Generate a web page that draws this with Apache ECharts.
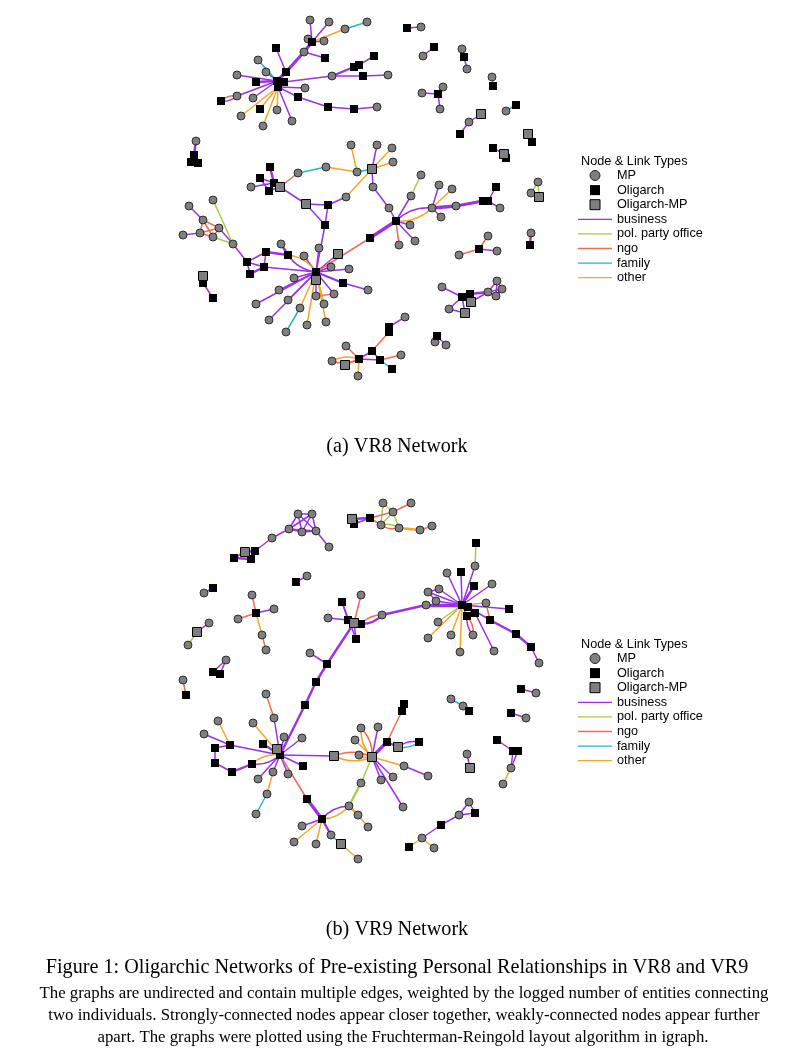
<!DOCTYPE html>
<html>
<head>
<meta charset="utf-8" />
<style>
  html, body { margin: 0; padding: 0; background: #fff; }
  #net { width: 800px; height: 1058px; }
</style>
<script src="https://cdn.jsdelivr.net/npm/echarts@6/dist/echarts.min.js"></script>
</head>
<body>
<div id="net"></div>
<script type="text/javascript">
// node types: M = MP, O = Oligarch, X = Oligarch-MP
// link types: b = business, g = pol. party office, n = ngo, f = family, o = other
var nodeTypeNames = { M: 'MP', O: 'Oligarch', X: 'Oligarch-MP' };
var linkTypeNames = { b: 'business', g: 'pol. party office', n: 'ngo', f: 'family', o: 'other' };

// VR8 layout (Fruchterman-Reingold positions)
var vr8Nodes = [
  ['H1',277,81,'O'],['H2',284,82,'O'],['H3',278,87,'O'],
  ['a1',310,20,'M'],['a2',329,22,'M'],['a3',345,29,'M'],['a4',367,22,'M'],['a5',308,39,'M'],
  ['a6',312,42,'O'],['a7',324,41,'M'],['a8',276,48,'O'],['a9',304,52,'M'],['a10',325,58,'O'],
  ['a11',258,60,'M'],['a12',286,72,'O'],['a13',266,72,'M'],['a14',237,75,'M'],['a15',256,82,'O'],
  ['a16',305,88,'M'],['a17',332,76,'M'],['a18',354,67,'O'],['a19',359,65,'O'],['a20',363,76,'O'],
  ['a21',374,56,'O'],['a22',388,75,'M'],['a23',237,96,'M'],['a24',221,101,'O'],['a25',253,98,'M'],
  ['a26',298,97,'O'],['a27',260,109,'O'],['a28',277,110,'M'],['a29',241,116,'M'],['a30',292,121,'M'],
  ['a31',263,126,'M'],['a32',328,107,'O'],['a33',354,109,'O'],['a34',377,107,'M'],
  ['b1',407,28,'O'],['b2',421,27,'M'],['b3',434,47,'O'],['b4',423,56,'M'],['b5',462,49,'M'],
  ['b6',464,57,'O'],['b7',467,69,'M'],['b8',492,77,'M'],['b9',493,86,'O'],['b10',438,94,'O'],
  ['b11',422,93,'M'],['b12',443,87,'M'],['b13',440,109,'M'],['b14',516,105,'O'],['b15',506,111,'M'],
  ['b16',481,114,'X'],['b17',469,122,'M'],['b18',460,134,'O'],['b19',528,134,'X'],['b20',532,142,'O'],
  ['b21',493,148,'O'],['b22',504,154,'X'],['b23',506,158,'O'],
  ['c1',196,141,'M'],['c2',194,155,'O'],['c3',191,162,'O'],['c4',198,163,'O'],
  ['d1',538,182,'M'],['d2',531,193,'M'],['d3',539,197,'X'],['d4',531,233,'M'],['d5',530,245,'O'],
  ['e1',372,169,'X'],['e2',377,145,'M'],['e3',392,148,'M'],['e4',393,162,'M'],['e5',373,187,'M'],
  ['e6',351,145,'M'],['e7',326,167,'M'],['e8',298,173,'M'],['e9',357,172,'M'],['e10',346,197,'M'],
  ['f1',270,167,'O'],['f2',260,178,'O'],['f3',251,187,'M'],['f4',269,191,'O'],['f5',280,187,'X'],
  ['f6',274,183,'O'],
  ['g1',306,204,'X'],['g2',328,205,'O'],['g3',325,225,'O'],
  ['k1',213,200,'M'],['k2',189,206,'M'],['k3',203,220,'M'],['k4',219,228,'M'],['k5',200,233,'M'],
  ['k6',183,235,'M'],['k7',213,237,'M'],['k8',233,244,'M'],
  ['l1',247,262,'O'],['l2',266,252,'O'],['l3',288,255,'O'],['l4',281,244,'M'],['l5',264,267,'O'],
  ['l6',250,274,'O'],
  ['K',316,272,'O'],['KX',316,280,'X'],
  ['k9',319,248,'M'],['k10',304,256,'M'],['k11',338,254,'X'],['k12',331,267,'M'],['k13',349,269,'M'],
  ['k14',294,278,'M'],['k15',343,283,'O'],['k16',368,290,'M'],['k17',279,290,'M'],['k18',316,296,'M'],
  ['k19',334,294,'M'],['k20',256,304,'M'],['k21',288,300,'M'],['k22',324,304,'M'],['k23',300,308,'M'],
  ['k24',269,320,'M'],['k25',307,325,'M'],['k26',326,322,'M'],['k27',286,332,'M'],
  ['M',396,221,'O'],['m2',389,208,'M'],['m3',432,208,'M'],['m4',411,196,'M'],['m5',421,175,'M'],
  ['m6',439,185,'M'],['m7',452,189,'M'],['m8',456,206,'M'],['m9',483,201,'O'],['m10',488,201,'O'],
  ['m11',496,187,'O'],['m12',500,208,'M'],['m13',441,217,'M'],['m14',410,225,'M'],['m15',370,238,'O'],
  ['m16',399,245,'M'],['m17',415,241,'M'],
  ['n1',488,236,'M'],['n2',479,249,'O'],['n3',459,255,'M'],['n4',497,251,'M'],
  ['p1',442,287,'M'],['p2',462,297,'O'],['p3',470,294,'O'],['p4',471,302,'X'],['p5',449,309,'M'],
  ['p6',465,313,'X'],['p7',488,292,'M'],['p8',497,281,'M'],['p9',502,289,'M'],['p10',496,296,'M'],
  ['q1',405,317,'M'],['q2',389,327,'O'],['q3',389,332,'O'],['q4',437,336,'O'],['q5',435,342,'M'],
  ['q6',446,345,'M'],
  ['r1',372,351,'O'],['r2',380,360,'O'],['r3',401,355,'M'],['r4',392,369,'O'],['r5',359,359,'O'],
  ['r6',346,346,'M'],['r7',332,361,'M'],['r8',345,365,'X'],['r9',358,376,'M'],
  ['s1',203,276,'X'],['s2',203,283,'O'],['s3',213,298,'O']
];

// [from, to, type, weight]
var vr8Links = [
  ['a1','a6','b'],['a2','a6','b'],['a5','a6','b'],['a7','a6','b'],['a6','a3','o'],['a3','a4','f'],
  ['a6','a9','b',3],['a9','a12','b',3],['a9','a10','b'],['a8','a12','b'],['a12','H1','b',3],
  ['a11','H1','f'],['a13','H1','b'],['a14','H1','b'],['a15','H1','b',2],['a16','H3','b'],
  ['a17','H2','b'],['a17','a18','b',2],['a17','a20','b'],['a18','a19','b'],['a19','a21','b'],
  ['a20','a22','b'],['a23','H1','b'],['a23','a24','n'],['a23','a24','b'],['a25','H1','b'],
  ['a26','H3','b'],['a27','H3','o'],['a28','H3','o'],['a29','H3','o'],['a31','H3','o'],
  ['a30','H3','b'],['a26','a32','b'],['a32','a33','b'],['a33','a34','b'],
  ['H1','H2','b',2],['H1','H3','b',2],['H2','H3','b'],
  ['b1','b2','b'],['b3','b4','b'],['b5','b6','b'],['b6','b7','b'],['b8','b9','f'],['b10','b11','b'],
  ['b10','b12','b'],['b10','b13','b'],['b14','b15','f'],['b16','b17','b'],['b17','b18','b'],
  ['b19','b20','b'],['b21','b22','b'],['b22','b23','b'],
  ['c1','c2','b',2],['c2','c3','b'],['c2','c4','b'],
  ['d1','d2','g'],['d1','d3','g'],['d4','d5','b',2],
  ['e1','e2','b'],['e1','e3','o'],['e1','e4','o'],['e1','e5','b'],['e1','e10','o'],['e6','e9','o'],
  ['e9','e1','f'],['e7','e9','o'],['e8','e7','f'],['e5','m2','b'],
  ['f1','f6','b',2],['f2','f6','b'],['f3','f6','b'],['f6','f5','b'],['f4','f5','b'],['f5','e8','n'],
  ['f5','g1','b'],['f2','f4','b'],
  ['g1','g2','b'],['g1','g3','b'],['g2','g3','b'],['g2','e10','b'],['g3','K','b'],
  ['k2','k3','b'],['k3','k4','n'],['k3','k5','n'],['k4','k5','n'],['k4','k7','n'],['k5','k7','n'],
  ['k3','k7','n'],['k5','k6','b'],['k1','k8','g'],['k4','k8','b'],['k7','k8','g'],['k8','l1','b'],
  ['l1','l2','b'],['l2','l3','b',2],['l4','l3','b',2],['l1','l5','b'],['l5','l6','b',2],['l1','l6','b'],
  ['l5','K','b'],['l3','K','o'],['l3','K','b'],['l2','l5','b'],
  ['K','KX','b',2],['K','k9','b'],['K','k10','b'],['K','k11','b'],['K','k12','b'],['K','k13','b'],
  ['K','k14','b'],['K','k15','b',2],['k15','k16','b'],['K','k17','b'],['K','k18','b'],['K','k19','b'],
  ['k18','k19','n'],['K','k20','b'],['K','k21','b'],['K','k22','o'],['K','k23','o'],['k23','k27','f'],
  ['K','k24','b'],['K','k25','o'],['K','k26','o'],
  ['m2','M','b'],['M','m3','o'],['M','m3','b'],['m4','m5','g'],['m4','M','b'],['m3','m6','b'],
  ['m3','m7','o'],['m3','m8','b',3],['m8','m9','b',3],['m9','m10','b'],['m10','m11','b'],
  ['m10','m12','b'],['m3','m13','b'],['M','m14','b'],['M','m15','b',3],['m15','K','n'],
  ['M','m16','n'],['M','m17','b'],
  ['n2','n1','n'],['n2','n3','n'],['n2','n4','b'],
  ['p1','p2','b'],['p2','p3','b'],['p2','p4','b'],['p3','p7','b',2],['p2','p6','b'],['p5','p6','b'],
  ['p5','p2','b'],['p7','p8','b'],['p7','p9','b'],['p7','p10','f'],['p8','p9','b'],['p9','p10','b'],
  ['p8','p10','b'],['p4','p7','b'],
  ['q1','q2','b'],['q2','q3','b'],['q4','q5','b'],['q4','q6','b'],['q3','r1','n'],['r1','r2','b'],
  ['r1','r5','b'],['r2','r3','n'],['r2','r4','f'],['r5','r6','n'],['r5','r7','o'],['r5','r7','n'],
  ['r5','r8','n'],['r5','r9','o'],['r2','r5','b'],
  ['s1','s2','b'],['s2','s3','b']
];

// VR9 layout
var vr9Nodes = [
  ['t1',298,514,'M'],['t2',312,514,'M'],['t3',289,529,'M'],['t4',302,532,'M'],['t5',316,531,'M'],
  ['t6',329,547,'M'],['t7',272,538,'M'],['t8',255,551,'O'],['t9',245,552,'X'],['t10',234,558,'O'],
  ['t11',251,559,'O'],
  ['u1',352,519,'X'],['u2',354,524,'O'],['u3',370,518,'O'],['u4',383,503,'M'],['u5',411,503,'M'],
  ['u6',393,512,'M'],['u7',381,525,'M'],['u8',399,528,'M'],['u9',420,530,'M'],['u10',432,526,'M'],
  ['v1',307,576,'M'],['v2',296,582,'O'],['v3',213,588,'O'],['v4',204,593,'M'],
  ['w1',252,595,'M'],['w2',256,613,'O'],['w3',274,609,'M'],['w4',238,619,'M'],['w5',262,635,'M'],
  ['w6',266,650,'M'],
  ['x1',209,623,'M'],['x2',197,632,'X'],['x3',188,645,'M'],
  ['y1',226,660,'M'],['y2',213,672,'O'],['y3',220,674,'O'],
  ['z1',183,680,'M'],['z2',186,695,'O'],
  ['s1',342,602,'O'],['s2',361,595,'M'],['s3',328,618,'M'],['s4',348,620,'O'],['s5',354,623,'X'],
  ['s6',361,624,'O'],['s7',356,639,'O'],['s8',382,615,'M'],['s9',310,653,'M'],['s10',327,664,'O'],
  ['s11',316,682,'O'],['s12',305,705,'O'],
  ['R',462,605,'O'],['r1',476,543,'O'],['r2',475,566,'M'],['r3',447,573,'M'],['r4',461,572,'O'],
  ['r5',492,584,'M'],['r6',474,586,'O'],['r7',428,592,'M'],['r8',439,589,'M'],['rA',426,605,'M'],
  ['rB',436,601,'M'],['rC',468,607,'O'],['rD',486,603,'M'],['rE',509,609,'O'],['rF',467,616,'O'],
  ['rG',475,613,'O'],['rH',490,620,'O'],['rI',516,634,'O'],['rJ',531,647,'O'],['rK',539,663,'M'],
  ['rL',438,622,'M'],['rM',451,635,'M'],['rN',473,635,'M'],['rO',428,638,'M'],['rP',460,652,'M'],
  ['rQ',494,651,'M'],
  ['T',280,755,'O'],['TX',277,749,'X'],
  ['p1',266,694,'M'],['p2',274,718,'M'],['p3',253,723,'M'],['p4',218,721,'M'],['p5',204,734,'M'],
  ['p6',230,745,'O'],['p7',215,748,'O'],['p8',215,763,'O'],['p9',232,772,'O'],['p10',252,764,'O'],
  ['p11',263,744,'O'],['p12',284,737,'M'],['p13',302,738,'M'],['p14',303,766,'O'],['p15',273,772,'M'],
  ['p16',288,774,'M'],['p17',258,779,'M'],['p18',267,794,'M'],['p19',256,814,'M'],['p20',307,799,'O'],
  ['p21',334,756,'X'],
  ['q1',322,819,'O'],['q2',302,826,'M'],['q3',294,842,'M'],['q4',316,844,'M'],['q5',331,835,'M'],
  ['q6',341,844,'X'],['q7',358,859,'M'],['q8',349,806,'M'],['q9',358,815,'M'],['q10',368,827,'M'],
  ['q11',361,783,'M'],
  ['U',372,757,'X'],['h1',361,728,'M'],['h2',378,727,'M'],['h3',355,740,'M'],['h4',387,742,'O'],
  ['h5',398,747,'X'],['h6',419,742,'O'],['h7',402,711,'O'],['h8',404,704,'O'],['h9',359,755,'M'],
  ['h10',404,766,'M'],['h11',428,776,'M'],['h12',393,777,'M'],['h13',381,780,'M'],['h14',403,807,'M'],
  ['i1',451,699,'M'],['i2',463,706,'M'],['i3',469,711,'O'],['i4',521,689,'O'],['i5',536,693,'M'],
  ['i6',511,713,'O'],['i7',526,718,'M'],['i8',467,754,'M'],['i9',470,768,'X'],['i10',497,740,'O'],
  ['i11',513,751,'O'],['i12',518,751,'O'],['i13',511,768,'M'],['i14',503,784,'M'],['i15',469,802,'M'],
  ['i16',475,813,'O'],['i17',459,815,'M'],['i18',441,825,'O'],['i19',422,838,'M'],['i20',409,847,'O'],
  ['i21',434,848,'M']
];

var vr9Links = [
  ['t1','t2','b'],['t1','t3','b'],['t1','t4','b'],['t1','t5','b'],['t2','t3','b'],['t2','t4','b'],
  ['t2','t5','b'],['t3','t4','b'],['t4','t5','b'],['t3','t5','b'],['t5','t6','b'],['t3','t7','b'],
  ['t7','t8','b'],['t8','t9','b',2],['t9','t10','b'],['t10','t11','b',2],['t9','t11','b'],
  ['u1','u3','b',2],['u2','u3','b'],['u3','u6','n'],['u6','u5','n'],['u4','u6','g'],['u4','u7','g'],
  ['u6','u7','g'],['u6','u8','g'],['u7','u8','n'],['u7','u8','g'],['u3','u7','n'],['u8','u9','o',2],
  ['u9','u10','n'],
  ['v1','v2','b'],['v3','v4','b'],
  ['w1','w2','n'],['w2','w3','b'],['w2','w4','n'],['w2','w5','o'],['w5','w6','n'],
  ['x1','x2','b'],['x2','x3','g'],['y1','y2','b'],['y1','y3','b'],['z1','z2','n'],
  ['s1','s4','b'],['s1','s7','b'],['s2','s5','n'],['s3','s4','b'],['s4','s5','b',2],['s5','s6','b',2],
  ['s5','s7','b'],['s6','s8','b',2],['s6','s8','n'],['s5','s10','b',2],['s9','s10','b'],
  ['s10','s11','b',2],['s11','s12','b',2],['s12','T','b',2],['s8','rA','b',2],
  ['r1','r2','g'],['r2','R','b'],['R','r3','b'],['R','r4','b'],['R','r5','b'],['R','r6','b',2],
  ['R','r7','b'],['R','r8','b'],['R','rB','b'],['R','rA','b',3],['R','rC','b',2],['R','rD','g'],
  ['rD','rH','n'],['R','rE','b'],['R','rF','b'],['R','rG','b',2],['rC','rH','b'],['rH','rI','b',2],
  ['rI','rJ','b',2],['rJ','rK','b'],['R','rL','g'],['R','rM','o'],['rF','rN','b'],['rF','rN','n'],
  ['R','rO','o'],['R','rP','o'],['rG','rQ','b'],['r7','r8','b'],['r7','rB','b'],
  ['p1','p2','n'],['p2','T','b'],['p3','T','o'],['p4','p6','o'],['p5','p6','b'],['p6','T','b'],
  ['p6','p7','b'],['p7','p8','b'],['p8','p9','b'],['p9','p10','b',2],['p10','T','o'],['p10','T','b'],
  ['p11','T','b',2],['TX','T','b',2],['p12','T','b'],['p13','T','b'],['p14','T','b'],['p15','T','b'],
  ['p16','T','b'],['p17','T','b'],['p15','p18','o'],['p18','p19','f'],['T','p20','n'],
  ['p20','q1','b',3],['T','p21','b'],['p21','U','n'],['p21','U','o'],
  ['q1','q2','b'],['q1','q3','o'],['q1','q4','o'],['q1','q5','b',2],['q5','q6','f'],['q6','q7','o'],
  ['q1','q8','o'],['q1','q8','b'],['q8','q9','o',2],['q9','q10','o'],['q8','q11','g',2],['q11','U','g'],
  ['U','h1','n'],['U','h1','o'],['U','h2','b'],['U','h3','o'],['U','h4','b',3],['h4','h5','b',2],
  ['h5','h6','f'],['h5','h6','b'],['h4','h7','n'],['h7','h8','b'],['U','h9','n'],['U','h9','o'],
  ['U','h10','o'],['h10','h11','b'],['U','h12','b'],['U','h13','b'],['U','h14','b'],
  ['i1','i2','f'],['i2','i3','n'],['i4','i5','b'],['i6','i7','b'],['i8','i9','b'],['i10','i11','b'],
  ['i11','i13','b'],['i12','i13','b'],['i13','i14','o'],['i15','i16','b'],['i15','i17','b'],
  ['i17','i16','b'],['i17','i18','b'],['i18','i19','b'],['i19','i20','o'],['i19','i21','o']
];

var linkColors = { b: '#9a32e6', g: '#a6cc4a', n: '#f26b52', f: '#22b6c6', o: '#f5a52a' };
var nodeStyles = {
  M: { symbol: 'circle', size: 8, color: '#7f7f7f', border: '#222', bw: 0.9 },
  O: { symbol: 'rect', size: 8, color: '#000', border: '#000', bw: 0 },
  X: { symbol: 'rect', size: 9, color: '#7f7f7f', border: '#000', bw: 1 }
};

//构建一个网络的所有系列
function buildSeries(nodes, links) {
  var pos = {};
  nodes.forEach(function (n) { pos[n[0]] = [n[1], n[2]]; });

  // 同一对节点之间的多条边按顺序弯曲
  var groups = {};
  links.forEach(function (l) {
    var key = [l[0], l[1]].sort().join('|');
    (groups[key] = groups[key] || []).push(l);
  });
  var lineData = { b: [], g: [], n: [], f: [], o: [] };
  Object.keys(groups).forEach(function (key) {
    var g = groups[key];
    g.forEach(function (l, i) {
      var ends = [l[0], l[1]].sort();
      var curve = g.length > 1 ? (i - (g.length - 1) / 2) * 0.45 : 0;
      lineData[l[2]].push({
        coords: [pos[ends[0]], pos[ends[1]]],
        lineStyle: { width: 0.6 + (l[3] || 1) * 0.9, curveness: curve }
      });
    });
  });

  var out = [];
  Object.keys(linkTypeNames).forEach(function (t) {
    out.push({
      type: 'lines',
      name: linkTypeNames[t],
      coordinateSystem: 'cartesian2d',
      silent: true,
      z: 1,
      lineStyle: { color: linkColors[t], opacity: 1 },
      data: lineData[t]
    });
  });
  Object.keys(nodeTypeNames).forEach(function (t) {
    var s = nodeStyles[t];
    out.push({
      type: 'scatter',
      name: nodeTypeNames[t],
      silent: true,
      z: 3,
      symbol: s.symbol,
      symbolSize: s.size,
      itemStyle: { color: s.color, borderColor: s.border, borderWidth: s.bw, opacity: 1 },
      data: nodes.filter(function (n) { return n[3] === t; }).map(function (n) { return [n[1], n[2]]; })
    });
  });
  return out;
}

var squareIcon = 'path://M0,0H10V10H0Z';
var lineIcon = 'path://M0,0H34V1.3H0Z';

function legendData() {
  var d = [
    { name: 'MP', icon: 'circle', itemStyle: { color: '#7f7f7f', borderColor: '#222', borderWidth: 1 } },
    { name: 'Oligarch', icon: squareIcon, itemStyle: { color: '#000', borderWidth: 0 } },
    { name: 'Oligarch-MP', icon: squareIcon, itemStyle: { color: '#7f7f7f', borderColor: '#000', borderWidth: 1 } }
  ];
  Object.keys(linkTypeNames).forEach(function (t) {
    d.push({ name: linkTypeNames[t], icon: lineIcon,
      itemStyle: { color: linkColors[t], borderWidth: 0 } });
  });
  return d;
}

function makeLegend(top) {
  return {
    left: 578, top: top, orient: 'vertical', padding: 0,
    itemWidth: 34, itemHeight: 10, itemGap: 1.6, selectedMode: false,
    textStyle: { fontFamily: 'Liberation Sans', fontSize: 12.7, color: '#000', lineHeight: 12, padding: [0, 0, 0, 0] },
    data: legendData()
  };
}

function label(text, x, y, font, align) {
  return { type: 'text', x: x, y: y, silent: true,
    style: { text: text, font: font, fill: '#000', align: align || 'center', verticalAlign: 'middle' } };
}

var serifBig = '20.2px "Liberation Serif"';
var serifSmall = '16.8px "Liberation Serif"';
var sansLegend = '12.7px "Liberation Sans"';

var option = {
  animation: false,
  backgroundColor: '#fff',
  grid: { left: 0, top: 0, width: 800, height: 1058 },
  xAxis: { type: 'value', min: 0, max: 800, show: false },
  yAxis: { type: 'value', min: 0, max: 1058, inverse: true, show: false },
  legend: [makeLegend(169), makeLegend(652)],
  graphic: [
    label('Node & Link Types', 581, 161, sansLegend, 'left'),
    label('Node & Link Types', 581, 644, sansLegend, 'left'),
    label('(a) VR8 Network', 397, 447, serifBig),
    label('(b) VR9 Network', 397, 930, serifBig),
    label('Figure 1: Oligarchic Networks of Pre-existing Personal Relationships in VR8 and VR9', 397, 968, serifBig),
    label('The graphs are undirected and contain multiple edges, weighted by the logged number of entities connecting', 404, 994, serifSmall),
    label('two individuals. Strongly-connected nodes appear closer together, weakly-connected nodes appear further', 404, 1016, serifSmall),
    label('apart. The graphs were plotted using the Fruchterman-Reingold layout algorithm in igraph.', 403, 1038, serifSmall)
  ],
  series: buildSeries(vr8Nodes, vr8Links).concat(buildSeries(vr9Nodes, vr9Links))
};

var chart = echarts.init(document.getElementById('net'));
chart.setOption(option);
</script>
</body>
</html>
